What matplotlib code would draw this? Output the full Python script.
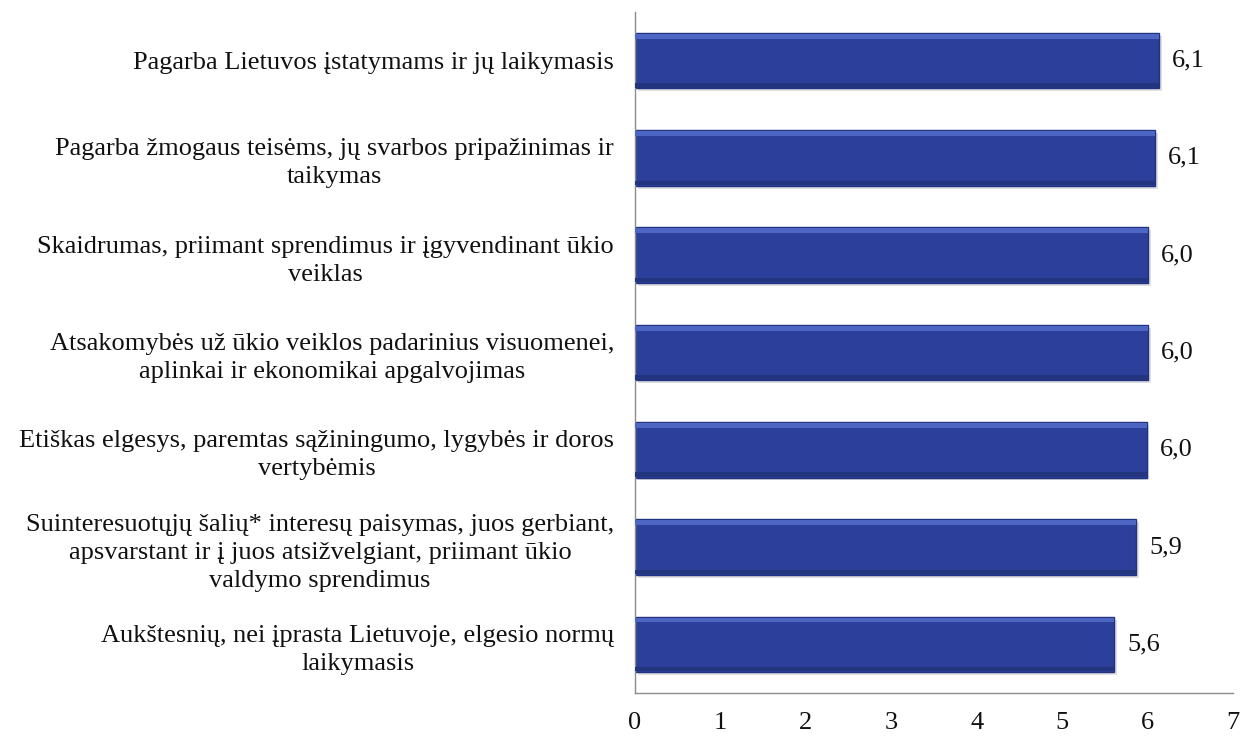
import numpy as np
import matplotlib
matplotlib.use("Agg")
import matplotlib.pyplot as plt

# Kategorijos (iš viršaus į apačią) ir vidutiniai įvertinimai
kategorijos = [
    "Pagarba Lietuvos įstatymams ir jų laikymasis",
    "Pagarba žmogaus teisėms, jų svarbos pripažinimas ir\ntaikymas",
    "Skaidrumas, priimant sprendimus ir įgyvendinant ūkio\nveiklas",
    "Atsakomybės už ūkio veiklos padarinius visuomenei,\naplinkai ir ekonomikai apgalvojimas",
    "Etiškas elgesys, paremtas sąžiningumo, lygybės ir doros\nvertybėmis",
    "Suinteresuotųjų šalių* interesų paisymas, juos gerbiant,\napsvarstant ir į juos atsižvelgiant, priimant ūkio\nvaldymo sprendimus",
    "Aukštesnių, nei įprasta Lietuvoje, elgesio normų\nlaikymasis",
]
reiksmes = [6.14, 6.09, 6.01, 6.01, 5.99, 5.87, 5.61]
x_ticks = [0, 1, 2, 3, 4, 5, 6, 7]

plt.rcParams['font.family'] = ['Liberation Serif', 'DejaVu Serif']
fs = 19

fig = plt.figure(figsize=(12.53, 7.37), dpi=100)
ax = fig.add_axes([0.5068, 0.0597, 0.4772, 0.924])

y = np.arange(len(kategorijos))[::-1]
h = 0.57

# šešėlis
ax.barh(y - 0.03, reiksmes, height=h, left=0.03, color='#c4c4cc', alpha=0.55, zorder=1)
# pagrindiniai stulpeliai
ax.barh(y, reiksmes, height=h, color='#2b3f9b', edgecolor='#22327f',
        linewidth=1.0, zorder=2)
# reljefas: šviesesnis viršus, tamsesnė apačia
ax.barh(y + h / 2 - 0.035, reiksmes, height=0.05, color='#4d66c4', linewidth=0, zorder=3)
ax.barh(y - h / 2 + 0.03, reiksmes, height=0.045, color='#24357f', linewidth=0, zorder=3)

for yi, v in zip(y, reiksmes):
    ax.text(v + 0.15, yi, f"{v:.1f}".replace('.', ','), va='center', ha='left',
            fontsize=fs, color='#111111')

ax.set_xlim(0, 7)
ax.set_ylim(-0.5, len(kategorijos) - 0.5)
ax.set_xticks(x_ticks)
ax.set_xticklabels([str(t) for t in x_ticks], fontsize=fs)
ax.set_yticks(y)
ax.set_yticklabels(kategorijos, fontsize=fs, multialignment='center', linespacing=1.35)
ax.tick_params(axis='both', length=0, colors='#111111')
ax.tick_params(axis='y', pad=15)
ax.tick_params(axis='x', pad=14)

for s in ['top', 'right']:
    ax.spines[s].set_visible(False)
for s in ['left', 'bottom']:
    ax.spines[s].set_color('#8c8c8c')
    ax.spines[s].set_linewidth(1.0)

fig.savefig("out.png", dpi=100, facecolor='white')
